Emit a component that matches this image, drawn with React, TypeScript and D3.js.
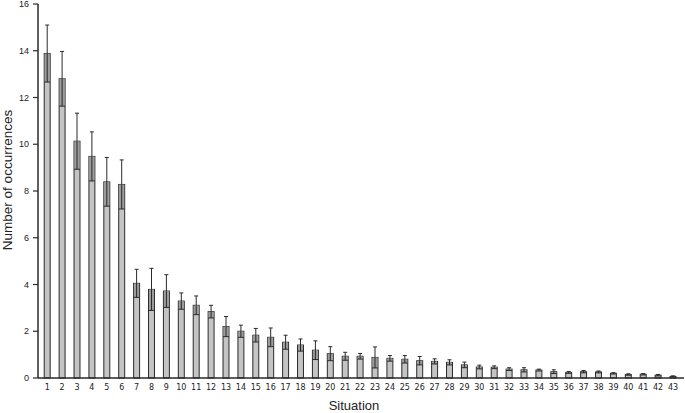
import React from "react";
import * as d3 from "d3";

const situations: string[] = Array.from({ length: 43 }, (_, i) => String(i + 1));
const means: number[] = [13.88, 12.8, 10.13, 9.48, 8.39, 8.28, 4.05, 3.79, 3.72, 3.29, 3.11, 2.84, 2.2, 2.0, 1.83, 1.74, 1.53, 1.41, 1.19, 1.04, 0.93, 0.93, 0.88, 0.84, 0.8, 0.74, 0.71, 0.67, 0.56, 0.47, 0.46, 0.38, 0.35, 0.34, 0.27, 0.24, 0.27, 0.26, 0.2, 0.15, 0.16, 0.12, 0.07];
const errors: number[] = [1.22, 1.17, 1.2, 1.05, 1.04, 1.05, 0.6, 0.9, 0.7, 0.35, 0.4, 0.27, 0.43, 0.26, 0.29, 0.4, 0.3, 0.26, 0.4, 0.3, 0.17, 0.12, 0.45, 0.12, 0.16, 0.18, 0.11, 0.11, 0.12, 0.08, 0.06, 0.06, 0.09, 0.04, 0.08, 0.04, 0.05, 0.04, 0.03, 0.03, 0.03, 0.03, 0.02];
const yTicks: number[] = [0, 2, 4, 6, 8, 10, 12, 14, 16];

const W = 685;
const H = 413;

export default function App() {
  const x = d3.scaleBand<string>().domain(situations).range([39.75, 680.45]).paddingInner(0.6).paddingOuter(0.3);
  const y = d3.scaleLinear().domain([0, 16]).range([378, 4]);
  const bw = x.bandwidth();
  const axisX = 38;
  const font = "'Liberation Sans', Arial, Helvetica, sans-serif";
  const stroke = "#2a2a2a";

  return (
    <svg width={W} height={H} style={{ position: "absolute", left: 0, top: 0, background: "#fff" }}>
      {situations.map((s, i) => {
        const x0 = x(s)!;
        const cx = x0 + bw / 2;
        const v = means[i];
        const e = errors[i];
        return (
          <g key={s}>
            <rect x={x0} y={y(v)} width={bw} height={y(0) - y(v)} fill="#c4c4c4" stroke={stroke} strokeWidth={1} />
            <rect x={x0 + 0.5} y={y(v)} width={bw - 1} height={y(v - e) - y(v)} fill="#9c9c9c" stroke="none" />
            <line x1={cx} x2={cx} y1={y(v + e)} y2={y(v - e)} stroke={stroke} strokeWidth={1} />
            <line x1={cx - 2} x2={cx + 2} y1={y(v + e)} y2={y(v + e)} stroke={stroke} strokeWidth={1} />
            <line x1={x0} x2={x0 + bw} y1={y(v - e)} y2={y(v - e)} stroke={stroke} strokeWidth={1} />
          </g>
        );
      })}
      <line x1={axisX} x2={684} y1={y(0)} y2={y(0)} stroke={stroke} strokeWidth={1.5} />
      <line x1={axisX} x2={axisX} y1={y(0)} y2={y(16)} stroke={stroke} strokeWidth={1.5} />
      {yTicks.map((t) => (
        <g key={t}>
          <line x1={axisX - 5} x2={axisX} y1={y(t)} y2={y(t)} stroke={stroke} strokeWidth={1.2} />
          <text x={29} y={y(t)} dy="0.35em" textAnchor="end" fontSize={9} fontFamily={font} fill="#222">{t}</text>
        </g>
      ))}
      {situations.map((s) => (
        <text key={s} x={x(s)! + bw / 2} y={390} textAnchor="middle" fontSize={8} fontFamily="'DejaVu Sans', sans-serif" fill="#222">{s}</text>
      ))}
      <text x={354} y={410} textAnchor="middle" fontSize={13} fontFamily={font} fill="#222">Situation</text>
      <text transform={`translate(12,180) rotate(-90)`} textAnchor="middle" fontSize={13.5} fontFamily={font} fill="#222">Number of occurrences</text>
    </svg>
  );
}
